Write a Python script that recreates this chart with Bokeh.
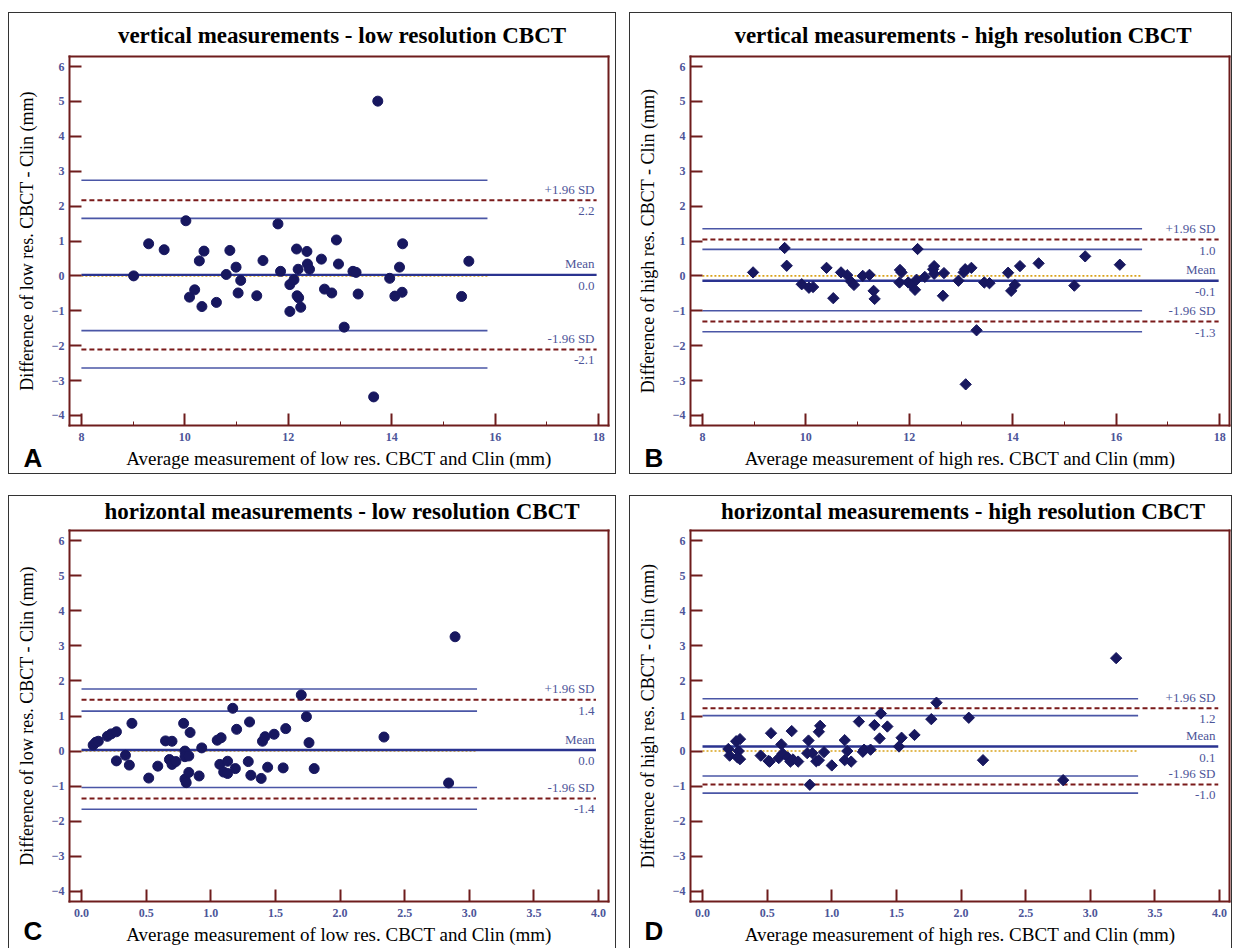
from math import pi
from bokeh.plotting import figure
from bokeh.models import Label, FixedTicker, Range1d, Spacer, NumeralTickFormatter, LinearAxis
from bokeh.layouts import column, row
from bokeh.embed import file_html
from bokeh.resources import INLINE

# ---------------- data ----------------
# A: vertical, low resolution
a_x = [13.73, 9.01, 9.30, 9.60, 10.02, 10.09, 10.19, 10.28, 10.33, 10.37, 10.61, 10.80, 10.87, 10.99,
       11.03, 11.08, 11.39, 11.51, 11.80, 11.85, 12.03, 12.03, 12.11, 12.16, 12.17, 12.19, 12.20, 12.24,
       12.36, 12.37, 12.41, 12.64, 12.70, 12.84, 12.93, 12.97, 13.08, 13.25, 13.31, 13.35, 13.65, 13.96,
       14.06, 14.15, 14.20, 14.21, 15.35, 15.49]
a_y = [5.01, 0.00, 0.92, 0.75, 1.58, -0.61, -0.40, 0.43, -0.88, 0.71, -0.76, 0.04, 0.73, 0.25,
       -0.49, -0.13, -0.57, 0.44, 1.49, 0.13, -0.25, -1.02, -0.11, 0.77, -0.57, 0.19, -0.63, -0.90,
       0.70, 0.34, 0.19, 0.48, -0.38, -0.49, 1.03, 0.34, -1.47, 0.13, 0.10, -0.52, -3.47, -0.07,
       -0.58, 0.25, -0.47, 0.92, -0.59, 0.42]
a_mean, a_upper, a_lower = 0.03, 2.17, -2.11
a_upper_ci = [1.65, 2.74]
a_lower_ci = [-2.64, -1.57]
a_vals = ["2.2", "0.0", "-2.1"]

# B: vertical, high resolution
b_x = [8.98, 9.59, 9.63, 9.92, 10.06, 10.14, 10.40, 10.53, 10.68, 10.80, 10.87, 10.93, 11.10, 11.23,
       11.31, 11.33, 11.82, 11.85, 11.81, 11.98, 12.04, 12.11, 12.14, 12.16, 12.30, 12.46, 12.48, 12.48,
       12.67, 12.65, 12.95, 13.05, 13.08, 13.20, 13.09, 13.30, 13.45, 13.55, 13.91, 13.97, 14.04, 14.14,
       14.50, 15.19, 15.40, 16.07]
b_y = [0.10, 0.80, 0.29, -0.24, -0.34, -0.32, 0.23, -0.64, 0.10, 0.02, -0.16, -0.26, 0.00, 0.03,
       -0.43, -0.66, 0.17, 0.10, -0.19, -0.19, -0.25, -0.40, -0.11, 0.77, -0.03, 0.19, 0.28, 0.06,
       0.08, -0.57, -0.14, 0.10, 0.19, 0.23, -3.11, -1.56, -0.19, -0.21, 0.09, -0.43, -0.26, 0.28,
       0.36, -0.28, 0.56, 0.32]
b_mean, b_upper, b_lower = -0.14, 1.04, -1.31
b_upper_ci = [0.76, 1.35]
b_lower_ci = [-1.60, -1.00]
b_vals = ["1.0", "-0.1", "-1.3"]

# C: horizontal, low resolution
c_x = [2.89, 0.09, 0.11, 0.13, 0.20, 0.23, 0.27, 0.27, 0.34, 0.37, 0.39, 0.52, 0.59, 0.65, 0.70,
       0.68, 0.70, 0.73, 0.79, 0.80, 0.80, 0.80, 0.81, 0.83, 0.84, 0.83, 0.91, 0.93, 1.05, 1.08,
       1.07, 1.10, 1.13, 1.13, 1.17, 1.19, 1.20, 1.29, 1.30, 1.31, 1.39, 1.40, 1.42, 1.44, 1.49,
       1.56, 1.58, 1.70, 1.74, 1.76, 1.80, 2.34, 2.84]
c_y = [3.26, 0.17, 0.25, 0.28, 0.42, 0.49, 0.55, -0.28, -0.12, -0.40, 0.79, -0.77, -0.43, 0.29, 0.28,
       -0.24, -0.38, -0.30, 0.79, 0.00, -0.16, -0.80, -0.90, -0.61, 0.53, -0.14, -0.71, 0.09, 0.31, 0.38,
       -0.38, -0.60, -0.29, -0.64, 1.22, -0.50, 0.62, -0.30, 0.83, -0.69, -0.78, 0.28, 0.41, -0.46, 0.48,
       -0.48, 0.64, 1.60, 0.98, 0.24, -0.50, 0.40, -0.91]
c_mean, c_upper, c_lower = 0.03, 1.46, -1.35
c_upper_ci = [1.14, 1.77]
c_lower_ci = [-1.66, -1.04]
c_vals = ["1.4", "0.0", "-1.4"]

# D: horizontal, high resolution
d_x = [3.20, 0.20, 0.21, 0.26, 0.29, 0.28, 0.29, 0.27, 0.45, 0.51, 0.52, 0.53, 0.59, 0.61, 0.62,
       0.66, 0.68, 0.69, 0.70, 0.74, 0.82, 0.81, 0.83, 0.85, 0.88, 0.90, 0.90, 0.91, 0.94, 1.00,
       1.10, 1.10, 1.12, 1.15, 1.21, 1.24, 1.25, 1.30, 1.33, 1.37, 1.38, 1.43, 1.52, 1.54, 1.64,
       1.77, 1.81, 2.06, 2.17, 2.79]
d_y = [2.65, 0.06, -0.13, 0.28, 0.34, 0.00, -0.23, -0.18, -0.13, -0.28, -0.30, 0.51, -0.20, 0.19, -0.07,
       -0.18, -0.30, 0.57, -0.24, -0.30, 0.30, -0.06, -0.96, -0.06, -0.29, -0.26, 0.55, 0.72, -0.03, -0.41,
       0.31, -0.26, 0.00, -0.30, 0.84, -0.02, 0.04, 0.04, 0.74, 0.36, 1.07, 0.70, 0.13, 0.38, 0.46,
       0.91, 1.38, 0.95, -0.26, -0.83]
d_mean, d_upper, d_lower = 0.13, 1.22, -0.95
d_upper_ci = [1.01, 1.49]
d_lower_ci = [-1.20, -0.71]
d_vals = ["1.2", "0.1", "-1.0"]

y_ticks = [-4, -3, -2, -1, 0, 1, 2, 3, 4, 5, 6]
xt_mm = [8, 10, 12, 14, 16, 18]
xt_mm_minor = [9, 11, 13, 15, 17]
xt_h = [0.0, 0.5, 1.0, 1.5, 2.0, 2.5, 3.0, 3.5, 4.0]

# ---------------- style ----------------
SERIF = "Liberation Serif"
TICKCOL = "#4d5599"
FRAMECOL = "#6e1c1c"
PTCOL = "#17175f"
CICOL = "#4a56a6"
MEANCOL = "#2a3390"
DASHCOL = "#7a1a1a"
ZEROCOL = "#d9a21b"
YR = (-4.29, 6.29)


def style_axis(ax):
    ax.axis_line_color = FRAMECOL
    ax.axis_line_width = 2
    ax.axis_line_cap = "square"
    ax.major_tick_in = 12
    ax.major_tick_out = 0
    ax.major_tick_line_color = FRAMECOL
    ax.major_tick_line_width = 2
    ax.minor_tick_in = 4
    ax.minor_tick_out = 0
    ax.minor_tick_line_color = FRAMECOL
    ax.minor_tick_line_width = 1
    ax.major_label_text_font = SERIF
    ax.major_label_text_font_style = "bold"
    ax.major_label_text_font_size = "12px"
    ax.major_label_text_color = TICKCOL
    ax.axis_label_text_font = SERIF
    ax.axis_label_text_font_style = "normal"
    ax.axis_label_text_color = "black"


def panel(title, letter, xlab, ylab, xs, ys, mean, upper, lower, upper_ci, lower_ci, vals,
          xr, xticks, xminor, xfmt, x0, ci_end, line_end, marker, W, H,
          L, R, T, B, border_css, title_off, letter_mid):
    sx = (W - L - R) / (xr[1] - xr[0])
    sy = (H - T - B) / (YR[1] - YR[0])
    x_lo = xr[0] - L / sx
    y_lo = YR[0] - B / sy
    p = figure(width=W, height=H, output_backend="svg", toolbar_location=None,
               x_range=Range1d(x_lo, xr[1] + R / sx),
               y_range=Range1d(y_lo, YR[1] + T / sy),
               min_border_left=0, min_border_right=0, min_border_top=0, min_border_bottom=0)
    p.styles = border_css
    p.grid.visible = False
    p.outline_line_color = None

    xa = p.xaxis[0]
    ya = p.yaxis[0]
    style_axis(xa)
    style_axis(ya)
    xa.fixed_location = YR[0]
    xa.bounds = xr
    ya.fixed_location = xr[0]
    ya.bounds = YR
    xa.ticker = FixedTicker(ticks=xticks, minor_ticks=xminor)
    ya.ticker = FixedTicker(ticks=y_ticks, minor_ticks=[])
    xa.formatter = NumeralTickFormatter(format=xfmt)
    xa.axis_label = xlab
    ya.axis_label = ylab
    xa.axis_label_text_font_size = "19px"
    ya.axis_label_text_font_size = "18px"
    xa.major_label_standoff = 7
    ya.major_label_standoff = 5
    xa.axis_label_standoff = 4
    ya.axis_label_standoff = 12

    top = LinearAxis(fixed_location=YR[1], bounds=xr, ticker=FixedTicker(ticks=[], minor_ticks=[]))
    right = LinearAxis(fixed_location=xr[1], bounds=YR, ticker=FixedTicker(ticks=[], minor_ticks=[]))
    for ax in (top, right):
        style_axis(ax)
    p.add_layout(top, "above")
    p.add_layout(right, "right")

    for v in upper_ci + lower_ci:
        p.line([x0, ci_end], [v, v], line_color=CICOL, line_width=1.6)
    p.line([x0, ci_end], [0, 0], line_color=ZEROCOL, line_width=1.6, line_dash="2 2")
    p.line([x0, line_end], [mean, mean], line_color=MEANCOL, line_width=2.4)
    for v in (upper, lower):
        p.line([x0, line_end], [v, v], line_color=DASHCOL, line_width=2, line_dash="5 3")

    if marker == "circle":
        p.scatter(xs, ys, marker="circle", size=10, fill_color=PTCOL, line_color=PTCOL)
    else:
        p.scatter(xs, ys, marker="square", angle=pi / 4, size=8, fill_color=PTCOL, line_color=PTCOL)

    names = ["+1.96 SD", "Mean", "-1.96 SD"]
    levels = [upper, mean, lower]
    for nm, lv, vt in zip(names, levels, vals):
        for txt, off in ((nm, 11), (vt, -11)):
            p.add_layout(Label(x=xr[1], y=lv, text=txt, x_offset=-14, y_offset=off,
                               text_align="right", text_baseline="middle",
                               text_font=SERIF, text_font_size="13px", text_color=TICKCOL))

    # title
    p.add_layout(Label(x=(xr[0] + xr[1]) / 2, y=YR[1], x_offset=3, y_offset=title_off, text=title,
                       text_align="center", text_baseline="middle", text_font=SERIF,
                       text_font_style="bold", text_font_size="23px", text_color="black"))
    p.add_layout(Label(x=x_lo + 14 / sx, y=y_lo + letter_mid / sy,
                       text=letter, text_align="left", text_baseline="middle",
                       text_font="Liberation Sans", text_font_style="bold", text_font_size="26px",
                       text_color="black"))
    return p


top_css = {"border": "1.5px solid #333", "box-sizing": "border-box"}
bot_css = {"border": "1.5px solid #333", "border-bottom": "none", "box-sizing": "border-box"}

XR_MM = (7.77, 18.19)
XR_H = (-0.093, 4.077)

pA = panel("vertical measurements - low resolution CBCT", "A",
           "Average measurement of low res. CBCT and Clin (mm)",
           "Difference of low res. CBCT - Clin (mm)",
           a_x, a_y, a_mean, a_upper, a_lower, a_upper_ci, a_lower_ci, a_vals,
           XR_MM, xt_mm, xt_mm_minor, "0", 8, 15.85, 17.96, "circle",
           608, 462, 60, 9, 43, 50, top_css, 21, 18)
pB = panel("vertical measurements - high resolution CBCT", "B",
           "Average measurement of high res. CBCT and Clin (mm)",
           "Difference of high res. CBCT - Clin (mm)",
           b_x, b_y, b_mean, b_upper, b_lower, b_upper_ci, b_lower_ci, b_vals,
           XR_MM, xt_mm, xt_mm_minor, "0", 8, 16.5, 17.98, "diamond",
           603, 462, 60, 4, 43, 50, top_css, 21, 18)
pC = panel("horizontal measurements - low resolution CBCT", "C",
           "Average measurement of low res. CBCT and Clin (mm)",
           "Difference of low res. CBCT - Clin (mm)",
           c_x, c_y, c_mean, c_upper, c_lower, c_upper_ci, c_lower_ci, c_vals,
           XR_H, xt_h, [], "0.0", 0, 3.06, 3.98, "circle",
           608, 453, 60, 9, 34, 48, bot_css, 19, 19)
pD = panel("horizontal measurements - high resolution CBCT", "D",
           "Average measurement of high res. CBCT and Clin (mm)",
           "Difference of high res. CBCT - Clin (mm)",
           d_x, d_y, d_mean, d_upper, d_lower, d_upper_ci, d_lower_ci, d_vals,
           XR_H, xt_h, [], "0.0", 0, 3.37, 3.99, "diamond",
           603, 453, 60, 4, 34, 48, bot_css, 19, 19)

layout = column(Spacer(height=12),
                row(Spacer(width=8), pA, Spacer(width=13), pB),
                Spacer(height=21),
                row(Spacer(width=8), pC, Spacer(width=13), pD))

open("out.html", "w").write(file_html(layout, INLINE))
